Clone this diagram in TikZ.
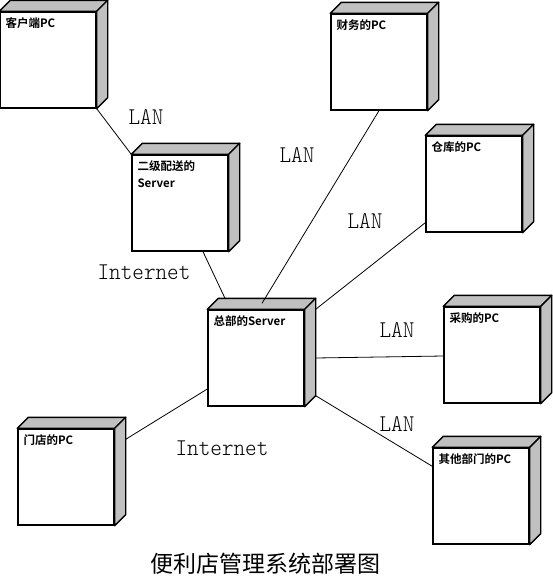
\documentclass[tikz,border=0pt]{standalone}
\usepackage{fontspec}
\usepackage{tikz}
\usetikzlibrary{positioning}
\usepackage{xcolor}
\newfontfamily\cjk[BoldFont={Noto Sans CJK SC Bold}]{Noto Sans CJK SC}
\newfontfamily\lanfont[FakeStretch=0.92]{lmmonolt10-regular.otf}
\definecolor{facegray}{RGB}{192,192,192}

\begin{document}
\begin{tikzpicture}[x=1pt, y=-1pt]
            \tikzstyle{device} = [rectangle, minimum width=96pt, minimum height=96pt, draw=black, line width=1.4pt, fill=white, inner sep=0pt]
            \tikzstyle{devlabel} = [anchor=north west, inner sep=0pt, xshift=6pt, yshift=-6pt, align=left, font=\cjk\bfseries\fontsize{11.5}{17}\selectfont]
            \tikzstyle{face} = [draw=black, line width=1.4pt, fill=facegray, line join=round]
            \tikzstyle{link} = [line width=0.8pt]
            \tikzstyle{net} = [font=\lanfont\fontsize{24}{24}\selectfont, inner sep=0pt]

            \useasboundingbox (0,0) rectangle (553,581);

            \node (client)[device, label={[devlabel]north west:客户端PC}] at (48,60) {};
            \node (relay)[device, label={[devlabel]north west:二级配送的\\Server}] at (180,203) {};
            \node (hq)[device, label={[devlabel]north west:总部的Server}] at (256,358) {};
            \node (finance)[device, label={[devlabel]north west:财务的PC}] at (379,62) {};
            \node (warehouse)[device, label={[devlabel]north west:仓库的PC}] at (474,184) {};
            \node (purchase)[device, label={[devlabel]north west:采购的PC}] at (492,355) {};
            \node (other)[device, label={[devlabel]north west:其他部门的PC}] at (481,496) {};
            \node (store)[device, label={[devlabel]north west:门店的PC}] at (66,477) {};

            \foreach \n in {client, relay, hq, finance, warehouse, purchase, other, store} {
                \draw [face] (\n.north west) -- ++(11pt,11pt) -- ([shift={(11pt,11pt)}]\n.north east) -- (\n.north east) -- cycle;
                \draw [face] (\n.north east) -- ++(11pt,11pt) -- ([shift={(11pt,11pt)}]\n.south east) -- (\n.south east) -- cycle;
            }

            \draw [link] (client.south east) -- (relay.north west);
            \draw [link] ([xshift=23pt]relay.south) -- ([xshift=-31pt, yshift=11pt]hq.north);
            \draw [link] (finance.south) -- ([xshift=6pt, yshift=6pt]hq.north);
            \draw [link] ([yshift=10pt]warehouse.south west) -- ([xshift=11pt]hq.north east);
            \draw [link] ([xshift=11pt]hq.east) -- ([yshift=-1pt]purchase.west);
            \draw [link] ([shift={(11pt,11pt)}]hq.south east) -- ([yshift=-19pt]other.north west);
            \draw [link] ([shift={(11pt,-11pt)}]store.north east) -- ([yshift=-31pt]hq.west);

            \node (lan1)[net] at (146,117) {LAN};
            \node (lan2)[net] at (297,155) {LAN};
            \node (lan3)[net] at (365,221) {LAN};
            \node (lan4)[net] at (397,330) {LAN};
            \node (lan5)[net] at (397,424) {LAN};
            \node (inet1)[net] at (144,272) {Internet};
            \node (inet2)[net] at (222,448) {Internet};

            \node (title)[font=\cjk\fontsize{23}{23}\selectfont, inner sep=0pt] at (265,564) {便利店管理系统部署图};
        \end{tikzpicture}
\end{document}
